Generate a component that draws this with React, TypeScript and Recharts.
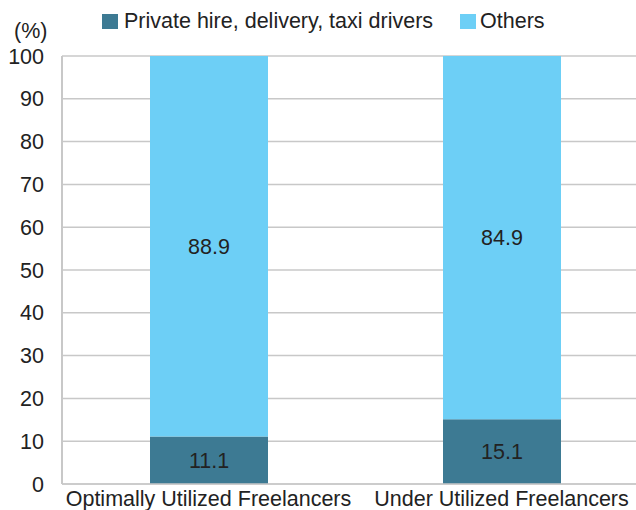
import React from 'react';
import { BarChart, Bar, XAxis, YAxis, CartesianGrid, LabelList } from 'recharts';

const categories = ['Optimally Utilized Freelancers', 'Under Utilized Freelancers'];
const driversShare = [11.1, 15.1];
const othersShare = [88.9, 84.9];
const yTicks = [0, 10, 20, 30, 40, 50, 60, 70, 80, 90, 100];

const DARK = '#3d7a93';
const LIGHT = '#6dcff6';
const FONT = '"Liberation Sans", Arial, sans-serif';
const FS = 21.5;

const data = categories.map((name, i) => ({
  name,
  drivers: driversShare[i],
  others: othersShare[i],
}));

export default function App() {
  return (
    <div
      style={{
        position: 'absolute',
        left: 0,
        top: 0,
        width: 636,
        height: 510,
        overflow: 'hidden',
        background: '#fff',
        fontFamily: FONT,
      }}
    >
      {/* legend */}
      <div style={{ position: 'absolute', left: 102, top: 9, display: 'flex', alignItems: 'center', fontSize: FS, color: '#222' }}>
        <span style={{ width: 16, height: 15, background: DARK, display: 'inline-block', marginRight: 6 }} />
        <span>Private hire, delivery, taxi drivers</span>
        <span style={{ width: 16, height: 15, background: LIGHT, display: 'inline-block', marginLeft: 27, marginRight: 4 }} />
        <span>Others</span>
      </div>
      <div style={{ position: 'absolute', left: 14, top: 19, fontSize: FS, color: '#222' }}>(%)</div>

      <div style={{ position: 'absolute', left: 0, top: 0 }}>
        <BarChart
          width={660}
          height={510}
          data={data}
          margin={{ top: 56, right: 12, left: 0, bottom: 0 }}
          barSize={118}
        >
          <CartesianGrid vertical={false} stroke="#c8c8c8" strokeWidth={1.5} />
          <XAxis
            dataKey="name"
            height={26}
            axisLine={{ stroke: '#c8c8c8', strokeWidth: 1.5 }}
            tickLine={false}
            tick={{ fill: '#222', fontSize: FS, fontFamily: FONT }}
            tickMargin={1}
            interval={0}
          />
          <YAxis
            domain={[0, 100]}
            ticks={yTicks}
            width={62}
            axisLine={{ stroke: '#c8c8c8', strokeWidth: 2 }}
            tickLine={false}
            tick={{ fill: '#222', fontSize: FS, fontFamily: FONT }}
            tickMargin={12}
          />
          <Bar dataKey="drivers" stackId="a" fill={DARK} isAnimationActive={false}>
            <LabelList dataKey="drivers" position="center" fill="#222" fontSize={FS} fontFamily={FONT} />
          </Bar>
          <Bar dataKey="others" stackId="a" fill={LIGHT} isAnimationActive={false}>
            <LabelList dataKey="others" position="center" fill="#222" fontSize={FS} fontFamily={FONT} />
          </Bar>
        </BarChart>
      </div>
    </div>
  );
}
